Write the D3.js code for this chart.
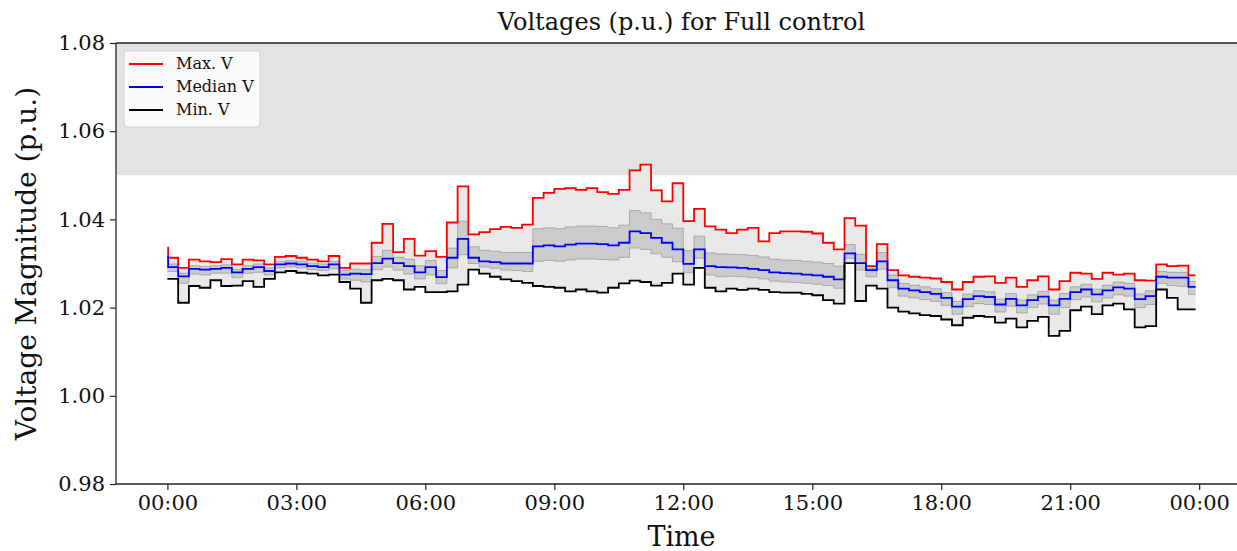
<!DOCTYPE html>
<html><head><meta charset="utf-8">
<script src="https://cdn.jsdelivr.net/npm/d3@7"></script>
<style>
body{margin:0;background:#fff}
svg{display:block}
text{font-family:"DejaVu Serif",serif}
</style>
</head><body>
<svg id="c" width="1237" height="551"></svg>
<script>
// ---- data (15-minute samples, 00:00 .. 23:45) ----
const stepMinutes = 15;
const endMinutes = 23 * 60 + 55;
const initialMax = 1.0336;
const initialMedian = 1.0316;

const maxV = [
1.0313,1.0290,1.0309,1.0305,1.0303,1.0310,1.0298,1.0309,1.0307,1.0298,1.0315,1.0317,1.0313,1.0309,1.0305,1.0317,
1.0290,1.0300,1.0300,1.0347,1.0390,1.0326,1.0356,1.0318,1.0328,1.0315,1.0393,1.0475,1.0366,1.0371,1.0378,1.0383,
1.0381,1.0388,1.0449,1.0460,1.0469,1.0471,1.0467,1.0471,1.0462,1.0458,1.0467,1.0511,1.0524,1.0466,1.0441,1.0482,
1.0396,1.0424,1.0384,1.0377,1.0369,1.0377,1.0381,1.0350,1.0369,1.0373,1.0373,1.0372,1.0368,1.0347,1.0332,1.0403,
1.0386,1.0294,1.0344,1.0285,1.0273,1.0270,1.0268,1.0266,1.0258,1.0241,1.0258,1.0270,1.0271,1.0256,1.0268,1.0247,
1.0262,1.0271,1.0241,1.0260,1.0279,1.0277,1.0265,1.0279,1.0275,1.0277,1.0262,1.0261,1.0298,1.0294,1.0295,1.0273];

const medianV = [
1.0292,1.0271,1.0288,1.0286,1.0288,1.0290,1.0280,1.0288,1.0292,1.0283,1.0298,1.0300,1.0298,1.0294,1.0292,1.0298,
1.0275,1.0277,1.0276,1.0301,1.0311,1.0301,1.0294,1.0280,1.0292,1.0269,1.0313,1.0356,1.0313,1.0305,1.0303,1.0300,
1.0300,1.0300,1.0339,1.0341,1.0339,1.0343,1.0345,1.0345,1.0344,1.0341,1.0347,1.0373,1.0369,1.0358,1.0347,1.0332,
1.0299,1.0332,1.0294,1.0292,1.0291,1.0290,1.0288,1.0285,1.0280,1.0278,1.0277,1.0275,1.0273,1.0270,1.0264,1.0323,
1.0301,1.0285,1.0305,1.0262,1.0243,1.0239,1.0235,1.0231,1.0222,1.0202,1.0219,1.0226,1.0224,1.0207,1.0220,1.0205,
1.0217,1.0225,1.0205,1.0220,1.0235,1.0241,1.0230,1.0239,1.0246,1.0243,1.0219,1.0226,1.0270,1.0268,1.0268,1.0247];

const minV = [
1.0265,1.0211,1.0249,1.0245,1.0262,1.0249,1.0250,1.0260,1.0247,1.0265,1.0280,1.0283,1.0279,1.0277,1.0273,1.0275,
1.0258,1.0243,1.0211,1.0262,1.0265,1.0262,1.0241,1.0247,1.0235,1.0235,1.0237,1.0252,1.0286,1.0277,1.0270,1.0264,
1.0260,1.0256,1.0249,1.0247,1.0245,1.0237,1.0241,1.0237,1.0234,1.0245,1.0255,1.0261,1.0258,1.0250,1.0256,1.0277,
1.0252,1.0290,1.0245,1.0237,1.0243,1.0240,1.0243,1.0240,1.0235,1.0234,1.0234,1.0231,1.0228,1.0217,1.0209,1.0301,
1.0215,1.0250,1.0243,1.0200,1.0191,1.0187,1.0183,1.0181,1.0173,1.0160,1.0177,1.0181,1.0179,1.0166,1.0175,1.0155,
1.0170,1.0179,1.0136,1.0147,1.0194,1.0202,1.0185,1.0205,1.0209,1.0196,1.0155,1.0158,1.0241,1.0222,1.0196,1.0196];

// dense grey band of individual bus voltages (upper / lower edge)
const upperBusV = [
1.0299,1.0278,1.0295,1.0293,1.0295,1.0297,1.0287,1.0295,1.0299,1.0290,1.0305,1.0307,1.0305,1.0301,1.0299,1.0305,
1.0285,1.0287,1.0286,1.0316,1.0330,1.0314,1.0310,1.0295,1.0307,1.0284,1.0335,1.0396,1.0338,1.0330,1.0328,1.0325,
1.0325,1.0325,1.0379,1.0381,1.0379,1.0383,1.0385,1.0385,1.0384,1.0381,1.0387,1.0420,1.0415,1.0400,1.0390,1.0380,
1.0329,1.0362,1.0324,1.0322,1.0321,1.0320,1.0318,1.0315,1.0310,1.0308,1.0307,1.0305,1.0303,1.0300,1.0294,1.0343,
1.0321,1.0289,1.0325,1.0274,1.0255,1.0251,1.0247,1.0243,1.0234,1.0214,1.0231,1.0238,1.0236,1.0219,1.0232,1.0217,
1.0229,1.0237,1.0217,1.0232,1.0247,1.0253,1.0242,1.0251,1.0258,1.0255,1.0231,1.0238,1.0282,1.0280,1.0280,1.0259];

const lowerBusV = [
1.0282,1.0255,1.0276,1.0274,1.0278,1.0278,1.0268,1.0278,1.0280,1.0274,1.0290,1.0292,1.0290,1.0286,1.0284,1.0288,
1.0265,1.0262,1.0258,1.0286,1.0292,1.0285,1.0276,1.0265,1.0274,1.0254,1.0290,1.0320,1.0300,1.0292,1.0289,1.0285,
1.0284,1.0282,1.0305,1.0307,1.0305,1.0308,1.0310,1.0310,1.0309,1.0308,1.0314,1.0335,1.0332,1.0322,1.0314,1.0304,
1.0279,1.0312,1.0274,1.0270,1.0271,1.0270,1.0268,1.0265,1.0260,1.0258,1.0257,1.0255,1.0253,1.0250,1.0244,1.0312,
1.0285,1.0270,1.0287,1.0245,1.0226,1.0222,1.0218,1.0214,1.0205,1.0185,1.0202,1.0209,1.0207,1.0190,1.0203,1.0188,
1.0200,1.0208,1.0185,1.0200,1.0218,1.0224,1.0213,1.0222,1.0229,1.0226,1.0200,1.0207,1.0255,1.0250,1.0248,1.0230];

const yTicks = [0.98, 1.00, 1.02, 1.04, 1.06, 1.08];
const limitBand = [1.05, 1.08];
const legendItems = [
  {label: "Max. V", color: "#ff0000"},
  {label: "Median V", color: "#0000ff"},
  {label: "Min. V", color: "#000000"}
];
const titleText = "Voltages (p.u.) for Full control";
const xLabel = "Time";
const yLabel = "Voltage Magnitude (p.u.)";

// ---- chart ----
const svg = d3.select("#c");
const L = 116, T = 43, B = 484, R = 1247;
const base = new Date(2024, 0, 1, 0, 0);
const toDate = mins => new Date(base.getTime() + mins * 60000);
const marginMin = endMinutes * 0.05;

const x = d3.scaleTime().domain([toDate(-marginMin), toDate(endMinutes + marginMin)]).range([L, R]);
const y = d3.scaleLinear().domain([0.98, 1.08]).range([B, T]);

function series(vals, initial) {
  const pts = vals.map((v, i) => ({t: toDate(i * stepMinutes + (i === 0 && initial !== undefined ? 1 : 0)), v}));
  if (initial !== undefined) pts.unshift({t: toDate(0), v: initial});
  pts.push({t: toDate(endMinutes), v: vals[vals.length - 1]});
  return pts;
}
function band(lo, hi) {
  const p = lo.map((v, i) => ({t: toDate(i * stepMinutes), lo: v, hi: hi[i]}));
  p.push({t: toDate(endMinutes), lo: lo[lo.length - 1], hi: hi[hi.length - 1]});
  return p;
}

svg.append("defs").append("clipPath").attr("id", "clip")
  .append("rect").attr("x", L).attr("y", T).attr("width", R - L).attr("height", B - T);

const plot = svg.append("g").attr("clip-path", "url(#clip)");

plot.append("rect")
  .attr("x", L).attr("width", R - L)
  .attr("y", y(limitBand[1])).attr("height", y(limitBand[0]) - y(limitBand[1]))
  .attr("fill", "#e3e3e3");

const area = d3.area().curve(d3.curveStepAfter)
  .x(d => x(d.t)).y0(d => y(d.lo)).y1(d => y(d.hi));
plot.append("path").attr("d", area(band(minV, maxV))).attr("fill", "#e9e9e9");
plot.append("path").attr("d", area(band(lowerBusV, upperBusV))).attr("fill", "#bdbdbd").attr("opacity", 0.7);

const line = d3.line().curve(d3.curveStepAfter).x(d => x(d.t)).y(d => y(d.v));
[upperBusV, lowerBusV].forEach(s => {
  plot.append("path").attr("d", line(series(s))).attr("fill", "none")
    .attr("stroke", "#7a7a7a").attr("stroke-width", 0.7).attr("opacity", 0.7);
});

plot.append("path").attr("d", line(series(maxV, initialMax))).attr("fill", "none")
  .attr("stroke", legendItems[0].color).attr("stroke-width", 1.8);
plot.append("path").attr("d", line(series(medianV, initialMedian))).attr("fill", "none")
  .attr("stroke", legendItems[1].color).attr("stroke-width", 1.8);
plot.append("path").attr("d", line(series(minV))).attr("fill", "none")
  .attr("stroke", legendItems[2].color).attr("stroke-width", 1.8);

// axes
const xTicks = d3.timeHour.every(3).range(toDate(0), toDate(24 * 60 + 1));
const xAxis = svg.append("g").attr("transform", `translate(0,${B})`)
  .call(d3.axisBottom(x).tickValues(xTicks).tickFormat(d3.timeFormat("%H:%M")).tickSize(6).tickPadding(5));
const yAxis = svg.append("g").attr("transform", `translate(${L},0)`)
  .call(d3.axisLeft(y).tickValues(yTicks).tickFormat(d3.format(".2f")).tickSize(6).tickPadding(5));
[xAxis, yAxis].forEach(a => {
  a.select(".domain").remove();
  a.selectAll(".tick line").attr("stroke", "#222").attr("stroke-width", 1.2);
  a.selectAll(".tick text").attr("font-family", "DejaVu Serif").attr("font-size", 21).attr("fill", "#111");
});

// spines
const sp = svg.append("g").attr("stroke", "#222").attr("stroke-width", 1.3).attr("fill", "none");
sp.append("line").attr("x1", L).attr("x2", L).attr("y1", T).attr("y2", B);
sp.append("line").attr("x1", L).attr("x2", R).attr("y1", B).attr("y2", B);
sp.append("line").attr("x1", L).attr("x2", R).attr("y1", T).attr("y2", T);
sp.append("line").attr("x1", R).attr("x2", R).attr("y1", T).attr("y2", B);

// labels
svg.append("text").attr("x", (L + R) / 2).attr("y", 30).attr("text-anchor", "middle")
  .attr("font-size", 24).attr("fill", "#111").text(titleText);
svg.append("text").attr("x", (L + R) / 2).attr("y", 546).attr("text-anchor", "middle")
  .attr("font-size", 27).attr("fill", "#111").text(xLabel);
svg.append("text").attr("transform", `translate(36,${(T + B) / 2}) rotate(-90)`)
  .attr("text-anchor", "middle").attr("font-size", 28).attr("fill", "#111").text(yLabel);

// legend
const lg = svg.append("g").attr("transform", "translate(124,51)");
lg.append("rect").attr("width", 136).attr("height", 76).attr("rx", 3)
  .attr("fill", "#fff").attr("fill-opacity", 0.8).attr("stroke", "#d0d0d0").attr("stroke-width", 1);
legendItems.forEach((d, i) => {
  const gy = 13 + i * 23;
  lg.append("line").attr("x1", 5).attr("x2", 39).attr("y1", gy).attr("y2", gy)
    .attr("stroke", d.color).attr("stroke-width", 1.8);
  lg.append("text").attr("x", 52).attr("y", gy + 5).attr("font-size", 16).attr("fill", "#111").text(d.label);
});
</script>
</body></html>
